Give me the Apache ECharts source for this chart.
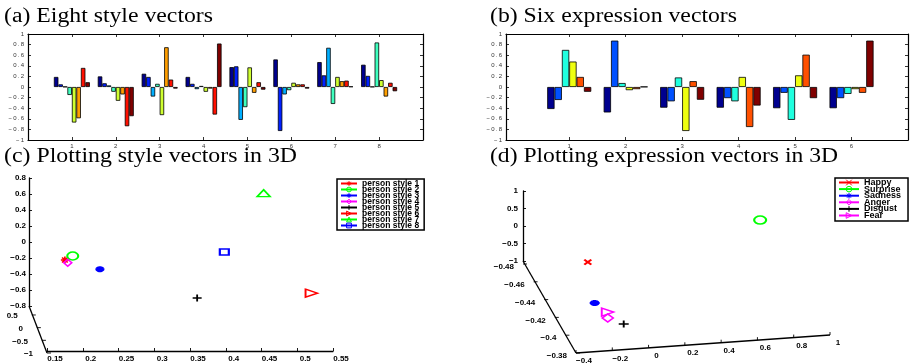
<!DOCTYPE html>
<html>
<head>
<meta charset="utf-8">
<script src="https://cdn.jsdelivr.net/npm/echarts@6/dist/echarts.min.js"></script>
<style>
html, body { margin: 0; padding: 0; background: #fff; }
#chart { width: 911px; height: 363px; }
</style>
</head>
<body>
<div id="chart"></div>
<script>
// (a) 8 style vectors, 8 components each
var styleGroups = [1, 2, 3, 4, 5, 6, 7, 8];
var styleVec1 = [0.19, 0.05, 0.005, -0.15, -0.67, -0.59, 0.36, 0.09];
var styleVec2 = [0.20, 0.07, 0.03, -0.09, -0.26, -0.14, -0.74, -0.55];
var styleVec3 = [0.25, 0.19, -0.18, 0.06, -0.53, 0.75, 0.14, -0.03];
var styleVec4 = [0.19, 0.06, -0.04, 0.02, -0.09, -0.03, -0.52, 0.82];
var styleVec5 = [0.375, 0.39, -0.62, -0.38, 0.37, -0.11, 0.09, -0.05];
var styleVec6 = [0.52, -0.83, -0.14, -0.06, 0.08, 0.05, 0.05, -0.03];
var styleVec7 = [0.47, 0.22, 0.74, -0.32, 0.19, 0.11, 0.12, 0.01];
var styleVec8 = [0.42, 0.21, 0.005, 0.84, 0.13, -0.18, 0.08, -0.08];
var styleVecs = [styleVec1, styleVec2, styleVec3, styleVec4, styleVec5, styleVec6, styleVec7, styleVec8];

// (b) 6 expression vectors, 6 components each
var exprGroups = [1, 2, 3, 4, 5, 6];
var exprVec1 = [-0.415, -0.245, 0.70, 0.48, 0.19, -0.09];
var exprVec2 = [-0.48, 0.875, 0.075, -0.06, -0.04, 0.005];
var exprVec3 = [-0.39, -0.27, 0.18, -0.83, 0.11, -0.24];
var exprVec4 = [-0.39, -0.21, -0.27, 0.19, -0.755, -0.35];
var exprVec5 = [-0.40, -0.11, -0.62, 0.22, 0.61, -0.21];
var exprVec6 = [-0.40, -0.21, -0.13, -0.04, -0.11, 0.875];
var exprVecs = [exprVec1, exprVec2, exprVec3, exprVec4, exprVec5, exprVec6];

// (c) style vectors in 3D, read as projected (x, z)
var styleNames = ['person style 1', 'person style 2', 'person style 3', 'person style 4',
                  'person style 5', 'person style 6', 'person style 7', 'person style 8'];
var stylePlotX = [0.175, 0.186, 0.224, 0.179, 0.36, 0.52, 0.453, 0.398];
var stylePlotZ = [-0.225, -0.175, -0.34, -0.26, -0.70, -0.64, 0.61, -0.125];
var depthTicksC = [0.5, 0, -0.5, -1];

// (d) expression vectors in 3D, read as projected (x, z)
var exprNames = ['Happy', 'Surprise', 'Sadness', 'Anger', 'Disgust', 'Fear'];
var exprPlotX = [-0.335, 0.615, -0.297, -0.225, -0.137, -0.225];
var exprPlotZ = [-1.03, 0.17, -2.2, -2.63, -2.8, -2.46];
var depthTicksD = [-0.48, -0.46, -0.44, -0.42, -0.4, -0.38];
var bottomTicksD = [-0.4, -0.2, 0, 0.2, 0.4, 0.6, 0.8, 1];

// colours (jet colormap)
var styleColors = ['#00008F', '#0020FF', '#00AFFF', '#40FFBF', '#CFFF30', '#FF9F00', '#FF1000', '#800000'];
var exprColors = ['#00008F', '#0050FF', '#20FFDF', '#EFFF10', '#FF5000', '#800000'];

var SYM = {
    star: 'path://M5,0L5,10M0,5L10,5M1.5,1.5L8.5,8.5M1.5,8.5L8.5,1.5',
    plus: 'path://M5,0L5,10M0,5L10,5',
    cross: 'path://M0,0L10,10M0,10L10,0',
    right: 'path://M0,0L10,5L0,10Z'
};
var styleMarkers = [
    { symbol: SYM.star, size: [8, 7], color: '#ff0000', width: 1.6 },
    { symbol: 'circle', size: [11, 8], color: '#00ff00', width: 1.8 },
    { symbol: SYM.star, size: [9, 6], color: '#0000ff', width: 2.5 },
    { symbol: 'diamond', size: [8, 7], color: '#ff00ff', width: 1.6 },
    { symbol: SYM.plus, size: [9, 7], color: '#000000', width: 1.6 },
    { symbol: SYM.right, size: [12, 8], color: '#ff0000', width: 1.6 },
    { symbol: 'triangle', size: [13, 7], color: '#00ff00', width: 1.6 },
    { symbol: 'rect', size: [9, 6], color: '#0000ff', width: 1.8 }
];
var exprMarkers = [
    { symbol: SYM.cross, size: [7, 5], color: '#ff0000', width: 2 },
    { symbol: 'circle', size: [12, 8], color: '#00ff00', width: 1.8 },
    { symbol: SYM.star, size: [10, 6], color: '#0000ff', width: 2.5 },
    { symbol: 'diamond', size: [11, 8], color: '#ff00ff', width: 1.6 },
    { symbol: SYM.plus, size: [10, 7], color: '#000000', width: 1.6 },
    { symbol: SYM.right, size: [12, 8], color: '#ff00ff', width: 1.6 }
];

var SANS = '"Liberation Sans", Arial, sans-serif';
var SERIF = '"Liberation Serif", "Times New Roman", serif';

function minusFmt(v) {
    return String(+(+v).toFixed(2)).replace('-', '\u2212');
}
function spaced(v) {
    return minusFmt(v).split('').join('\u2009');
}

// 棒グラフ用の軸
function barXAxis(gridIndex, min, ticks, pos, showLabel) {
    return {
        type: 'value', gridIndex: gridIndex, position: pos, min: min, max: ticks.length + 1,
        axisLine: { show: true, onZero: false, lineStyle: { color: '#000', width: 1.2 } },
        axisTick: { show: true, inside: true, length: 3, customValues: ticks, lineStyle: { color: '#000', width: 0.8 } },
        axisLabel: { show: showLabel, customValues: ticks, fontSize: 6, color: '#333', margin: 3, fontFamily: SANS },
        splitLine: { show: false }
    };
}
function barYAxis(gridIndex, pos, showLabel) {
    return {
        type: 'value', gridIndex: gridIndex, position: pos, min: -1, max: 1, interval: 0.2,
        axisLine: { show: true, onZero: false, lineStyle: { color: '#000', width: 1.2 } },
        axisTick: { show: true, inside: true, length: 3, lineStyle: { color: '#000', width: 0.8 } },
        axisLabel: { show: showLabel, formatter: spaced, fontSize: 6, color: '#333', margin: 4, fontFamily: SANS },
        splitLine: { show: false }
    };
}

function barSeries(vecs, groups, colors, axisIndex, gap) {
    var out = [];
    colors.forEach(function (c, k) {
        out.push({
            name: 'bar' + axisIndex + '_' + k,
            type: 'bar',
            xAxisIndex: axisIndex, yAxisIndex: axisIndex,
            data: groups.map(function (g, i) { return [g, vecs[i][k]]; }),
            itemStyle: { color: c, borderColor: '#000', borderWidth: 0.8 },
            barGap: '0%', barCategoryGap: gap,
            silent: true
        });
    });
    return out;
}

function pointSeries(names, xs, zs, markers, axisIndex) {
    return names.map(function (n, i) {
        var m = markers[i];
        return {
            name: n, type: 'line',
            xAxisIndex: axisIndex, yAxisIndex: axisIndex,
            data: [[xs[i], zs[i]]],
            symbol: m.symbol, symbolSize: m.size, showSymbol: true, clip: false,
            itemStyle: { color: 'rgba(0,0,0,0)', borderColor: m.color, borderWidth: m.width },
            lineStyle: { color: m.color, width: 1.5 },
            silent: true
        };
    });
}

// 斜めの奥行き軸などを描く
function slantAxis(lineStart, p0, p1, v0, v1, ticks, tickVec, labelOff, align) {
    var els = [{
        type: 'line', silent: true,
        shape: { x1: lineStart[0], y1: lineStart[1], x2: p1[0], y2: p1[1] },
        style: { stroke: '#000', lineWidth: 1.3 }
    }];
    ticks.forEach(function (v) {
        var f = (v - v0) / (v1 - v0);
        var x = p0[0] + f * (p1[0] - p0[0]);
        var y = p0[1] + f * (p1[1] - p0[1]);
        els.push({
            type: 'line', silent: true,
            shape: { x1: x, y1: y, x2: x + tickVec[0], y2: y + tickVec[1] },
            style: { stroke: '#000', lineWidth: 0.9 }
        });
        els.push({
            type: 'text', silent: true, x: x + labelOff[0], y: y + labelOff[1],
            style: { text: minusFmt(v), font: 'bold 8px ' + SANS, fill: '#000', align: align, verticalAlign: 'middle' }
        });
    });
    return els;
}

var measureCtx = document.createElement('canvas').getContext('2d');
function title(text, x, y, width) {
    var font = '20px ' + SERIF;
    measureCtx.font = font;
    var s = width / measureCtx.measureText(text).width;
    return {
        type: 'text', silent: true, x: x, y: y, scaleX: s, scaleY: 1,
        style: { text: text, font: font, fill: '#000', verticalAlign: 'middle' }
    };
}

var chart = echarts.init(document.getElementById('chart'));

var graphics = [
    title('(a) Eight style vectors', 4, 16.5, 209),
    title('(b) Six expression vectors', 490, 16.5, 247),
    title('(c) Plotting style vectors in 3D', 4, 157, 293),
    title('(d) Plotting expression vectors in 3D', 490, 157, 348)
].concat(
    slantAxis([29, 306], [29, 308], [47, 353], 0.775, -1, depthTicksC, [4, 0], [-14, 1], 'right'),
    slantAxis([523, 261], [523, 264], [576, 353], -0.48, -0.38, depthTicksD, [4, 0], [-9, 3], 'right'),
    slantAxis([576, 353], [576, 353], [830, 335], -0.4, 1, bottomTicksD, [0, -3], [8, 8], 'center')
);

var legendBase = {
    orient: 'vertical',
    backgroundColor: '#fff', borderColor: '#000', borderWidth: 1.5, borderRadius: 0,
    selectedMode: false,
    itemStyle: { color: 'rgba(0,0,0,0)', borderWidth: 1 }
};

var option = {
    animation: false,
    backgroundColor: '#fff',
    grid: [
        { left: 28, right: 488, top: 34, bottom: 223 },
        { left: 506, right: 3, top: 34, bottom: 223 },
        { left: 47, right: 578, top: 178, bottom: 57 },
        { left: 576, right: 81, top: 191, bottom: 102 }
    ],
    xAxis: [
        barXAxis(0, 0, styleGroups, 'bottom', true),
        barXAxis(0, 0, styleGroups, 'top', false),
        barXAxis(1, -0.12, exprGroups, 'bottom', true),
        barXAxis(1, -0.12, exprGroups, 'top', false),
        {
            type: 'value', gridIndex: 2, min: 0.15, max: 0.55, interval: 0.05, offset: 45,
            axisLine: { show: true, onZero: false, lineStyle: { color: '#000', width: 1.3 } },
            axisTick: { show: true, inside: true, length: 3, lineStyle: { color: '#000', width: 0.9 } },
            axisLabel: { fontSize: 8, fontWeight: 'bold', color: '#000', fontFamily: SANS, margin: 4, padding: [0, 0, 0, 16] },
            splitLine: { show: false }
        },
        { type: 'value', gridIndex: 3, min: -0.4, max: 1, show: false }
    ],
    yAxis: [
        barYAxis(0, 'left', true),
        barYAxis(0, 'right', false),
        barYAxis(1, 'left', true),
        barYAxis(1, 'right', false),
        {
            type: 'value', gridIndex: 2, min: -0.8, max: 0.8, interval: 0.2, offset: 18,
            axisLine: { show: true, onZero: false, lineStyle: { color: '#000', width: 1.3 } },
            axisTick: { show: true, inside: true, length: 3, lineStyle: { color: '#000', width: 0.9 } },
            axisLabel: { formatter: minusFmt, fontSize: 8, fontWeight: 'bold', color: '#000', fontFamily: SANS, margin: 3 },
            splitLine: { show: false }
        },
        {
            type: 'value', gridIndex: 3, min: -1, max: 1, interval: 0.5, offset: 53,
            axisLine: { show: true, onZero: false, lineStyle: { color: '#000', width: 1.3 } },
            axisTick: { show: true, inside: true, length: 3, lineStyle: { color: '#000', width: 0.9 } },
            axisLabel: { formatter: minusFmt, fontSize: 8, fontWeight: 'bold', color: '#000', fontFamily: SANS, margin: 5 },
            splitLine: { show: false }
        }
    ],
    legend: [
        Object.assign({}, legendBase, {
            data: styleNames, left: 337, top: 179,
            padding: [0, 5, 0, 3], itemGap: -3, itemWidth: 16, itemHeight: 6,
            textStyle: { fontSize: 8.5, fontWeight: 'bold', fontFamily: SANS, color: '#000' }
        }),
        Object.assign({}, legendBase, {
            data: exprNames, left: 835, top: 178,
            padding: [0, 7, 1, 3], itemGap: -2.4, itemWidth: 20, itemHeight: 7,
            textStyle: { fontSize: 9, fontWeight: 'bold', fontFamily: SANS, color: '#000' }
        })
    ],
    graphic: graphics,
    series: [].concat(
        barSeries(styleVecs, styleGroups, styleColors, 0, '18%'),
        barSeries(exprVecs, exprGroups, exprColors, 2, '22%'),
        pointSeries(styleNames, stylePlotX, stylePlotZ, styleMarkers, 4),
        pointSeries(exprNames, exprPlotX, exprPlotZ, exprMarkers, 5)
    )
};

chart.setOption(option);
</script>
</body>
</html>
